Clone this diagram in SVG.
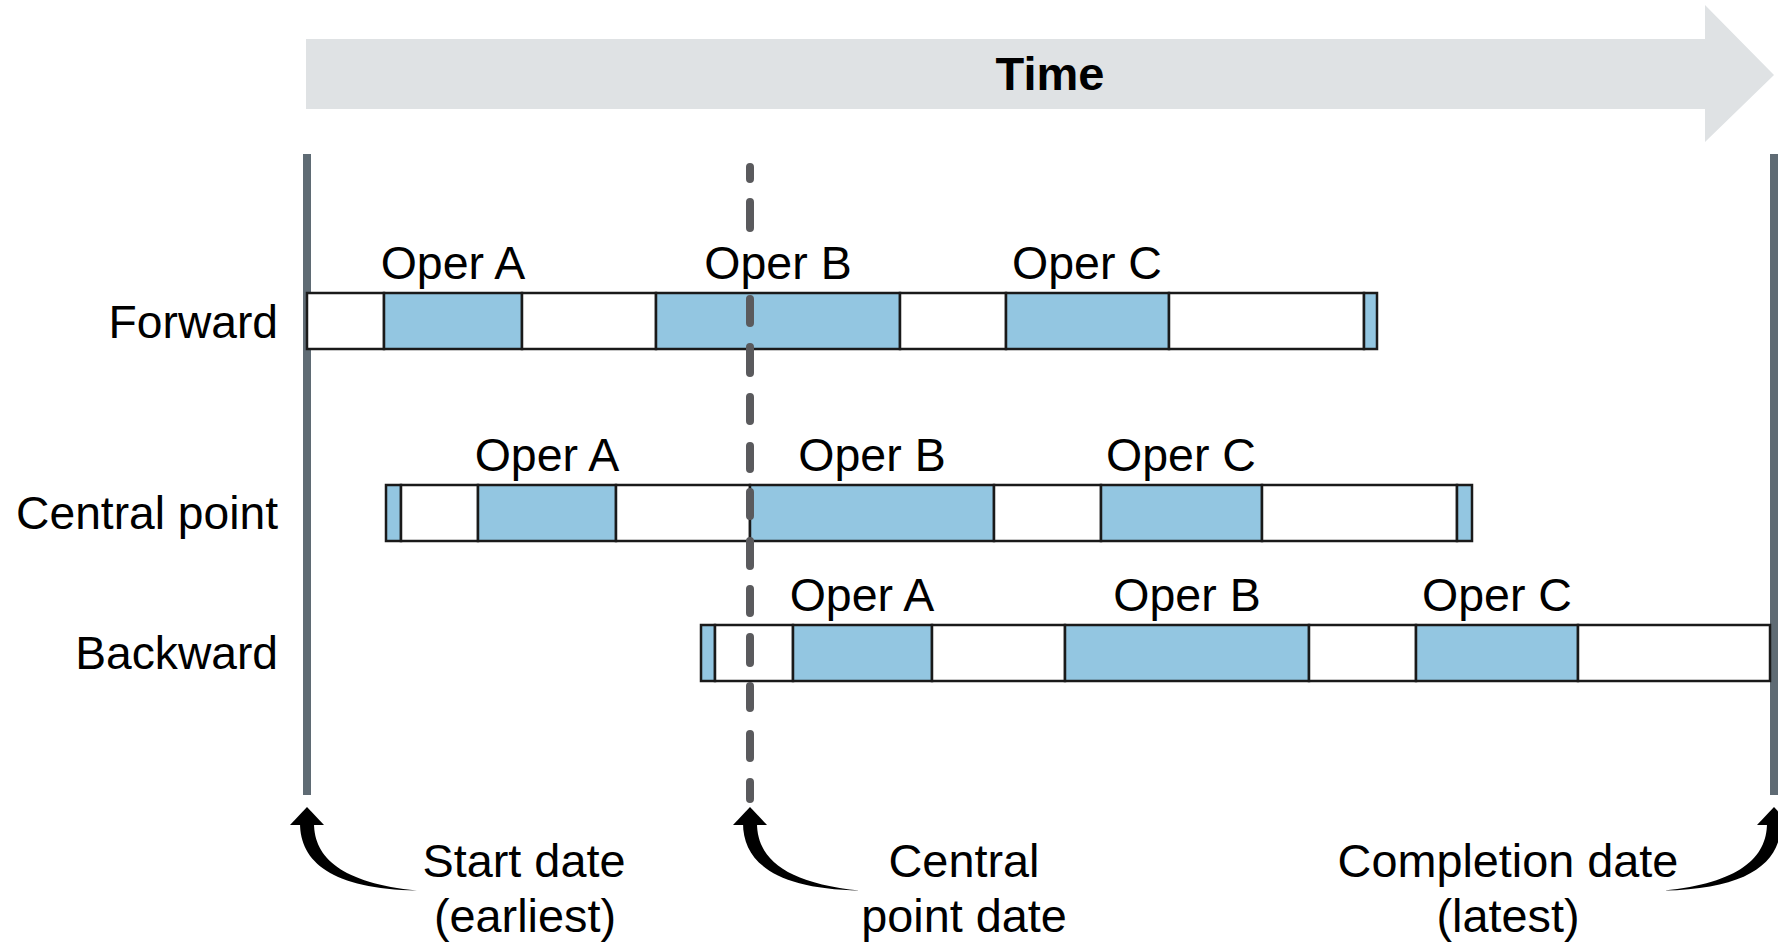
<svg xmlns="http://www.w3.org/2000/svg" width="1778" height="942" viewBox="0 0 1778 942">
<style>
text{font-family:"Liberation Sans",Arial,sans-serif;fill:#000;}
.lbl{font-size:46.5px;text-anchor:middle;}
.row{font-size:46.2px;text-anchor:end;}
.bot{font-size:46.8px;text-anchor:middle;}
.w{fill:#fff;stroke:#1a1a1a;stroke-width:2.5;}
.b{fill:#93c6e1;stroke:#1a1a1a;stroke-width:2.5;}
.vline{stroke:#5f6b74;stroke-width:8;fill:none;}
.dash{stroke:#5a5a5d;stroke-width:8;stroke-linecap:round;fill:none;}
.curve{fill:#000;}
</style>
<defs>
<g id="curvedArrow">
<path class="curve" d="M300 823 C300 862 332 889 417 890.5 C342 883 314 858 314 823 Z"/>
<polygon class="curve" points="290,825 307,807 324,825"/>
</g>
</defs>

<g id="time-arrow">
<polygon points="306,39 1705,39 1705,5 1774,75 1705,142 1705,109 306,109" fill="#dfe2e4"/>
<text x="1050" y="90" font-size="47" font-weight="bold" text-anchor="middle">Time</text>
</g>

<g id="start-line"><line class="vline" x1="307" y1="154" x2="307" y2="795"/></g>
<g id="completion-line"><line class="vline" x1="1774" y1="154" x2="1774" y2="795"/></g>

<g id="forward">
<text class="row" x="278" y="338">Forward</text>
<rect class="w" x="307" y="293" width="77" height="56"/>
<rect class="b" x="384" y="293" width="138" height="56"/>
<rect class="w" x="522" y="293" width="134" height="56"/>
<rect class="b" x="656" y="293" width="244" height="56"/>
<rect class="w" x="900" y="293" width="106" height="56"/>
<rect class="b" x="1006" y="293" width="163" height="56"/>
<rect class="w" x="1169" y="293" width="195" height="56"/>
<rect class="b" x="1364" y="293" width="13" height="56"/>
<text class="lbl" x="453" y="279">Oper A</text>
<text class="lbl" x="778" y="279">Oper B</text>
<text class="lbl" x="1087" y="279">Oper C</text>
</g>

<g id="central">
<text class="row" x="278" y="529">Central point</text>
<rect class="b" x="386" y="485" width="15" height="56"/>
<rect class="w" x="401" y="485" width="77" height="56"/>
<rect class="b" x="478" y="485" width="138" height="56"/>
<rect class="w" x="616" y="485" width="134" height="56"/>
<rect class="b" x="750" y="485" width="244" height="56"/>
<rect class="w" x="994" y="485" width="107" height="56"/>
<rect class="b" x="1101" y="485" width="161" height="56"/>
<rect class="w" x="1262" y="485" width="195" height="56"/>
<rect class="b" x="1457" y="485" width="15" height="56"/>
<text class="lbl" x="547" y="471">Oper A</text>
<text class="lbl" x="872" y="471">Oper B</text>
<text class="lbl" x="1181" y="471">Oper C</text>
</g>

<g id="backward">
<text class="row" x="278" y="669">Backward</text>
<rect class="b" x="701" y="625" width="14" height="56"/>
<rect class="w" x="715" y="625" width="78" height="56"/>
<rect class="b" x="793" y="625" width="139" height="56"/>
<rect class="w" x="932" y="625" width="133" height="56"/>
<rect class="b" x="1065" y="625" width="244" height="56"/>
<rect class="w" x="1309" y="625" width="107" height="56"/>
<rect class="b" x="1416" y="625" width="162" height="56"/>
<rect class="w" x="1578" y="625" width="192" height="56"/>
<text class="lbl" x="862" y="611">Oper A</text>
<text class="lbl" x="1187" y="611">Oper B</text>
<text class="lbl" x="1497" y="611">Oper C</text>
</g>

<g id="connectors">
<path class="dash" d="M750 167V179 M750 202V228 M750 299V323 M750 347V373 M750 397V421 M750 446V469 M750 492V516 M750 541V566 M750 589V613 M750 637V663 M750 686V708 M750 734V758 M750 782V799"/>
<use href="#curvedArrow"/>
<use href="#curvedArrow" transform="translate(443,0)"/>
<use href="#curvedArrow" transform="translate(2081,0) scale(-1,1)"/>
</g>

<g id="start-label">
<text class="bot" x="524" y="877">Start date</text>
<text class="bot" x="525" y="932">(earliest)</text>
</g>
<g id="central-label">
<text class="bot" x="964" y="877">Central</text>
<text class="bot" x="964" y="932">point date</text>
</g>
<g id="completion-label">
<text class="bot" x="1508" y="877">Completion date</text>
<text class="bot" x="1508" y="932">(latest)</text>
</g>
</svg>
